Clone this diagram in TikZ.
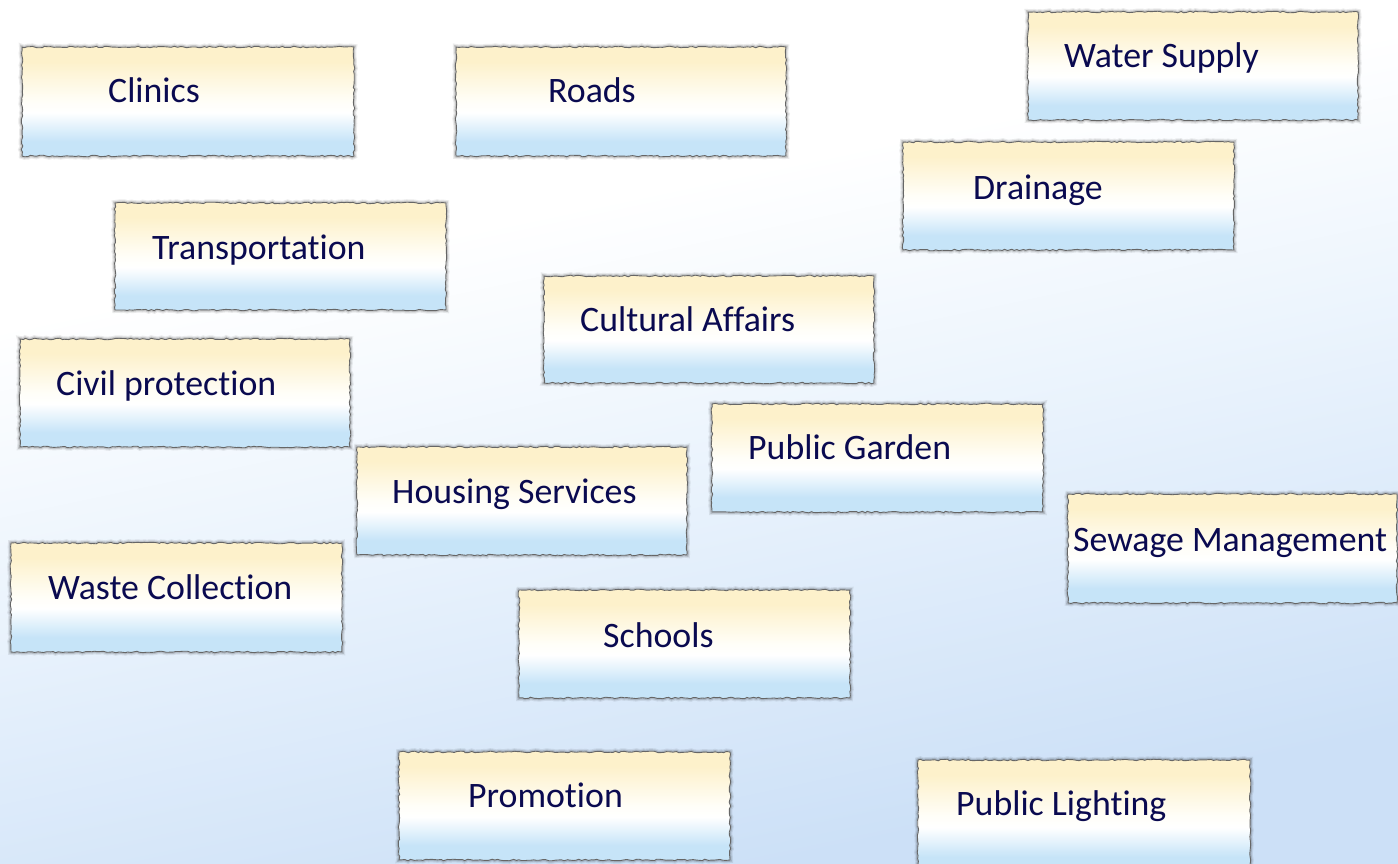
\documentclass[tikz,border=0pt]{standalone}
\usepackage{fontspec}
\setmainfont[Ligatures=NoCommon]{Carlito}
\usetikzlibrary{decorations.pathmorphing}
\definecolor{navy}{HTML}{0A0A50}
\definecolor{paperyel}{HTML}{FDF1CB}
\definecolor{paperblu}{HTML}{C6E4F8}
\definecolor{paperwht}{HTML}{FFFEF8}
\definecolor{bgblue}{HTML}{CCE0F7}
\definecolor{bgmid}{HTML}{EDF5FD}
\pgfdeclareverticalshading{boxshade}{100bp}{%
  color(0bp)=(paperblu); color(25bp)=(paperblu); color(32bp)=(paperblu);
  color(45bp)=(white); color(50bp)=(paperwht); color(68bp)=(paperyel);
  color(75bp)=(paperyel); color(100bp)=(paperyel)}
\pgfdeclareverticalshading{bgshade}{100bp}{%
  color(0bp)=(bgblue); color(27bp)=(bgblue); color(50bp)=(bgmid);
  color(63bp)=(white); color(100bp)=(white)}
\tikzset{
  tornbox/.style={decorate,
    decoration={random steps, segment length=3pt, amplitude=0.8pt},
    shading=boxshade, draw=black!60, line width=0.9pt,
    preaction={draw=black, opacity=0.08, line width=6pt},
    preaction={draw=black, opacity=0.14, line width=3.5pt}},
  lbl/.style={text=navy, font=\fontsize{35.8}{40}\selectfont, inner sep=0pt}
}
\newcommand\papernote[8]{%
  \shadedraw[tornbox] (#2,#3) rectangle (#4,#5);
  \node[lbl, anchor=base west] (#1) at (#6,#7+2) {#8};
}
\begin{document}
\begin{tikzpicture}[x=1pt,y=-1pt]
\pgfmathsetseed{7}
\useasboundingbox (0,0) rectangle (1398,864);
\clip (0,0) rectangle (1398,864);
\shade[shading=bgshade, shading angle=12] (0,0) rectangle (1398,864);
\papernote{clinics}{22}{47}{354}{156}{108}{101}{Clinics}
\papernote{roads}{456}{47}{786}{156}{548}{101}{Roads}
\papernote{water}{1028}{12}{1358}{120}{1064}{66}{Water Supply}
\papernote{drainage}{903}{142}{1234}{250}{973}{197}{Drainage}
\papernote{transport}{115}{203}{446}{310}{152}{257}{Transportation}
\papernote{cultural}{544}{276}{874}{383}{580}{329}{Cultural Affairs}
\papernote{civil}{20}{339}{350}{447}{56}{393}{Civil protection}
\papernote{garden}{712}{404}{1043}{512}{748}{457}{Public Garden}
\papernote{housing}{357}{447}{687}{555}{392}{501}{Housing Services}
\papernote{sewage}{1068}{494}{1397}{603}{1073}{549}{Sewage Management}
\papernote{waste}{11}{543}{342}{652}{48}{597}{Waste Collection}
\papernote{schools}{519}{590}{850}{698}{603}{645}{Schools}
\papernote{promotion}{399}{752}{730}{860}{468}{805}{Promotion}
\papernote{lighting}{918}{760}{1250}{872}{956}{813}{Public Lighting}
\end{tikzpicture}
\end{document}
